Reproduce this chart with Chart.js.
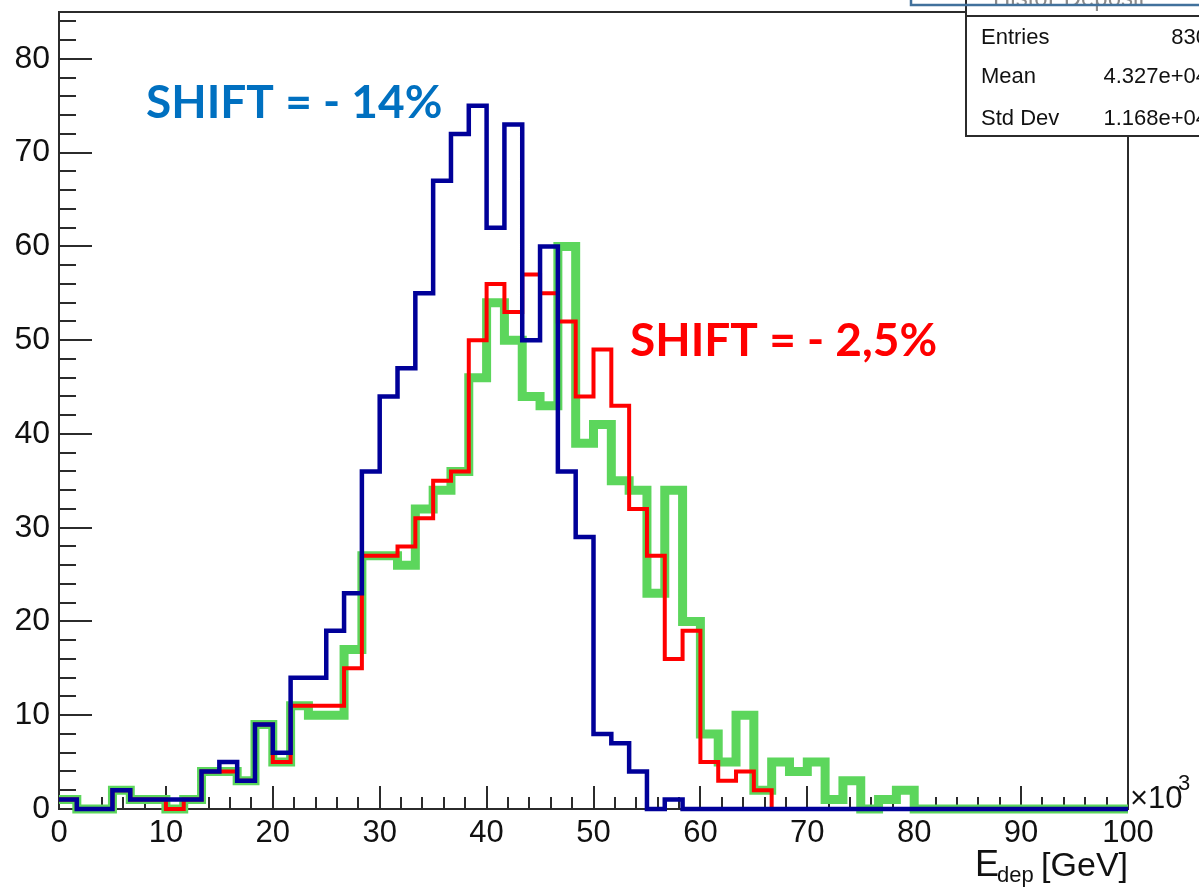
<!DOCTYPE html>
<html>
<head>
<meta charset="utf-8">
<script src="https://cdn.jsdelivr.net/npm/chart.js@4.4.1/dist/chart.umd.min.js"></script>
<style>
  html, body { margin: 0; padding: 0; background: #ffffff; overflow: hidden; }
  #wrap { width: 1199px; height: 887px; position: relative; }
</style>
</head>
<body>
<div id="wrap"><canvas id="c" width="1199" height="887"></canvas></div>
<script>
// Histogram binning: 60 bins from 0 to 100 (x 10^3)
const nBins = 60;
const xLow = 0;
const xHigh = 100;

// Bin contents, one entry per bin
const countsNominal = [1, 0, 0, 2, 1, 1, 0, 1, 4, 4, 3, 9, 5, 11, 10, 10, 17, 27, 27, 26,
  32, 34, 36, 46, 54, 50, 44, 43, 60, 39, 41, 35, 34, 23, 34, 20, 8, 5, 10, 2,
  5, 4, 5, 1, 3, 0, 1, 2, 0, 0, 0, 0, 0, 0, 0, 0, 0, 0, 0, 0];
const countsShift25 = [1, 0, 0, 2, 1, 1, 0, 1, 4, 4, 3, 9, 5, 11, 11, 11, 15, 27, 27, 28,
  31, 35, 36, 50, 56, 53, 57, 55, 52, 44, 49, 43, 32, 27, 16, 19, 5, 3, 4, 2,
  0, 0, 0, 0, 0, 0, 0, 0, 0, 0, 0, 0, 0, 0, 0, 0, 0, 0, 0, 0];
const countsShift14 = [1, 0, 0, 2, 1, 1, 1, 1, 4, 5, 3, 9, 6, 14, 14, 19, 23, 36, 44, 47,
  55, 67, 72, 75, 62, 73, 50, 60, 36, 29, 8, 7, 4, 0, 1, 0, 0, 0, 0, 0,
  0, 0, 0, 0, 0, 0, 0, 0, 0, 0, 0, 0, 0, 0, 0, 0, 0, 0, 0, 0];

// Axis tick values
const xTickValues = [0, 10, 20, 30, 40, 50, 60, 70, 80, 90, 100];
const yTickValues = [0, 10, 20, 30, 40, 50, 60, 70, 80];
const yMax = 85;

// Statistics box rows
const statNames = ['Entries', 'Mean', 'Std Dev'];
const statValues = ['830', '4.327e+04', '1.168e+04'];
const histName = 'HistoEDeposit';

// Outline points at each lower bin edge, closed at the upper edge
function histPoints(counts) {
  const w = (xHigh - xLow) / nBins;
  const pts = counts.map((c, i) => ({ x: xLow + i * w, y: c }));
  pts.push({ x: xHigh, y: counts[counts.length - 1] });
  return pts;
}

const FONT = "'Liberation Sans', Arial, sans-serif";

const rootFrame = {
  id: 'rootFrame',
  beforeDatasetsDraw(chart) {
    const { ctx, chartArea: a, scales: { x, y } } = chart;
    ctx.save();
    ctx.strokeStyle = '#2b2b2b';
    ctx.lineWidth = 2;
    // frame (top edge stops at the stats box)
    ctx.beginPath();
    ctx.moveTo(966, a.top);
    ctx.lineTo(a.left, a.top);
    ctx.lineTo(a.left, a.bottom);
    ctx.lineTo(a.right, a.bottom);
    ctx.lineTo(a.right, 136);
    ctx.stroke();
    // y ticks every 2, major every 10
    ctx.beginPath();
    for (let v = 0; v < yMax; v += 2) {
      const py = Math.round(y.getPixelForValue(v));
      const len = v % 10 === 0 ? 33 : 17;
      ctx.moveTo(a.left, py);
      ctx.lineTo(a.left + len, py);
    }
    // x ticks every 2, major every 10
    for (let v = xLow; v <= xHigh; v += 2) {
      const px = Math.round(x.getPixelForValue(v));
      const len = v % 10 === 0 ? 23 : 12;
      ctx.moveTo(px, a.bottom);
      ctx.lineTo(px, a.bottom - len);
    }
    ctx.stroke();
    ctx.restore();
  },
  afterDraw(chart) {
    const { ctx, chartArea: a } = chart;
    ctx.save();
    ctx.textBaseline = 'alphabetic';

    // annotations
    ctx.font = "bold 46px Lato, 'Open Sans', sans-serif";
    ctx.fillStyle = '#0070c0';
    ctx.textAlign = 'left';
    ctx.fillText('SHIFT = - 14%', 146, 118);
    ctx.fillStyle = '#ff0000';
    ctx.fillText('SHIFT = - 2,5%', 630, 356);

    // x10^3 exponent
    ctx.fillStyle = '#111';
    ctx.font = '31px ' + FONT;
    ctx.fillText('\u00d710', 1130, 808);
    ctx.font = '22px ' + FONT;
    ctx.fillText('3', 1178, 790);

    // axis title E_dep [GeV], right aligned with the axis end
    ctx.font = '36px ' + FONT;
    ctx.fillText('E', 975, 876);
    ctx.font = '22px ' + FONT;
    ctx.fillText('dep', 997, 882);
    ctx.font = '34px ' + FONT;
    ctx.textAlign = 'right';
    ctx.fillText('[GeV]', a.right, 876);

    // title row of the stats box (mostly outside the canvas)
    ctx.textAlign = 'left';
    ctx.fillStyle = '#ffffff';
    ctx.fillRect(966, -10, 260, 146);
    ctx.fillStyle = '#8a8a8a';
    ctx.font = '24px ' + FONT;
    ctx.fillText(histName, 993, 6);

    // stats box
    ctx.strokeStyle = '#2b2b2b';
    ctx.lineWidth = 2;
    ctx.strokeRect(966, -10, 260, 146);
    ctx.beginPath();
    ctx.moveTo(966, 16);
    ctx.lineTo(1199, 16);
    ctx.stroke();
    ctx.fillStyle = '#111';
    ctx.font = '22px ' + FONT;
    const rowY = [44, 83, 125];
    statNames.forEach((n, i) => {
      ctx.textAlign = 'left';
      ctx.fillText(n, 981, rowY[i]);
      ctx.textAlign = 'right';
      ctx.fillText(statValues[i], 1208, rowY[i]);
    });

    // blue outline box across the top
    ctx.strokeStyle = '#41719c';
    ctx.lineWidth = 2.5;
    ctx.strokeRect(911, -20, 300, 25);
    ctx.restore();
  }
};

const common = {
  pointRadius: 0,
  pointHoverRadius: 0,
  stepped: 'before',
  fill: false,
  borderJoinStyle: 'miter',
  borderCapStyle: 'butt',
  clip: false,
  tension: 0
};

new Chart(document.getElementById('c'), {
  type: 'line',
  data: {
    datasets: [
      Object.assign({ label: 'SHIFT = - 14%', data: histPoints(countsShift14), borderColor: '#000099', borderWidth: 4.5 }, common),
      Object.assign({ label: 'SHIFT = - 2,5%', data: histPoints(countsShift25), borderColor: '#ff0000', borderWidth: 4 }, common),
      Object.assign({ label: 'nominal', data: histPoints(countsNominal), borderColor: '#5cd65c', borderWidth: 9 }, common)
    ]
  },
  options: {
    responsive: false,
    devicePixelRatio: 1,
    animation: false,
    events: [],
    layout: { padding: { left: 0, top: 12, right: 71, bottom: 0 } },
    plugins: { legend: { display: false }, tooltip: { enabled: false }, title: { display: false } },
    scales: {
      x: {
        type: 'linear',
        min: xLow,
        max: xHigh,
        grid: { display: false, drawTicks: false },
        border: { display: false },
        afterBuildTicks: s => { s.ticks = xTickValues.map(v => ({ value: v })); },
        afterFit: s => { s.height = 78; s.paddingLeft = 0; s.paddingRight = 0; },
        ticks: { autoSkip: false, maxRotation: 0, padding: 6, color: '#111', font: { family: FONT, size: 31 } }
      },
      y: {
        type: 'linear',
        min: 0,
        max: yMax,
        grid: { display: false, drawTicks: false },
        border: { display: false },
        afterBuildTicks: s => { s.ticks = yTickValues.map(v => ({ value: v })); },
        afterFit: s => { s.width = 59; s.paddingTop = 0; s.paddingBottom = 0; },
        ticks: { autoSkip: false, padding: 9, color: '#111', font: { family: FONT, size: 32 } }
      }
    }
  },
  plugins: [rootFrame]
});
</script>
</body>
</html>
